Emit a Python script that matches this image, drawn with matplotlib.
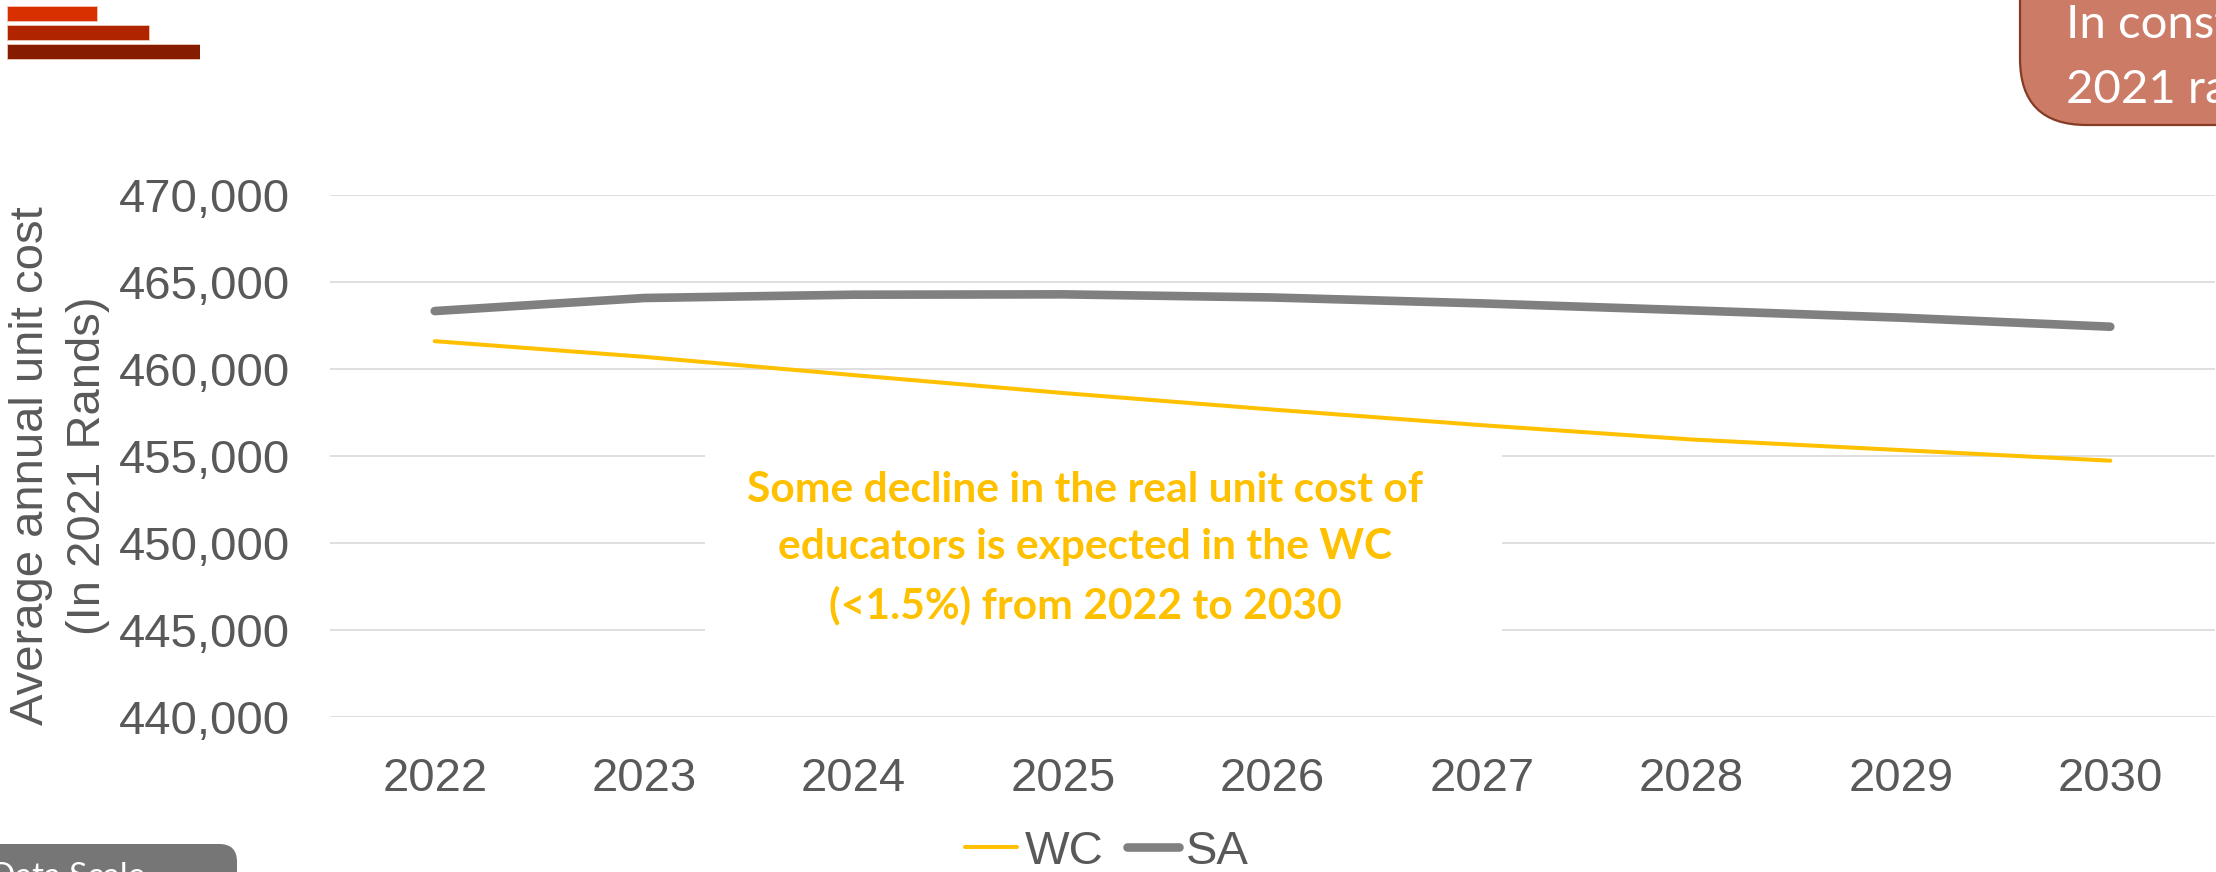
import numpy as np
import matplotlib.pyplot as plt
from matplotlib.lines import Line2D
from matplotlib.patches import FancyBboxPatch, Rectangle
from matplotlib.ticker import FuncFormatter

# projected average annual unit cost of an educator, constant 2021 rands
years = ['2022', '2023', '2024', '2025', '2026', '2027', '2028', '2029', '2030']
wc_cost = [461600, 460700, 459650, 458620, 457670, 456770, 455950, 455340, 454730]
sa_cost = [463330, 464080, 464270, 464290, 464110, 463770, 463370, 462950, 462430]
y_ticks = [440000, 445000, 450000, 455000, 460000, 465000, 470000]

# header strip widths (fraction of the longest one)
strip_widths = [0.466, 0.736, 1.0]
strip_colors = ['#D93000', '#B02500', '#861C00']

W, H = 2216, 872
TXT = '#595959'
plt.rcParams['font.family'] = ['Liberation Sans', 'DejaVu Sans']

fig = plt.figure(figsize=(W / 100, H / 100), dpi=100)

# ---- main chart ----
ax = fig.add_axes([330 / W, 1 - 717 / H, (2215 - 330) / W, (717 - 195) / H])
x = np.arange(len(years))
ax.plot(x, wc_cost, color='#FFC000', lw=2.9, solid_capstyle='round', zorder=3)
ax.plot(x, sa_cost, color='#808080', lw=6.2, solid_capstyle='round', zorder=3)

ax.set_xlim(-0.5, len(years) - 0.5)
ax.set_ylim(y_ticks[0], y_ticks[-1])
ax.set_xticks(x)
ax.set_xticklabels(years)
ax.set_yticks(y_ticks)
ax.yaxis.set_major_formatter(FuncFormatter(lambda v, _: f'{v:,.0f}'))
ax.tick_params(axis='both', length=0, labelsize=34, labelcolor=TXT)
ax.tick_params(axis='y', pad=29)
ax.tick_params(axis='x', pad=29)
ax.grid(axis='y', color='#D9D9D9', lw=1.2, zorder=0)
ax.set_axisbelow(True)
for s in ax.spines.values():
    s.set_visible(False)

# callout: white panel over the grid, text on top
ax_w = 2215 - 330
ax_h = 717 - 195
ax.add_patch(Rectangle(((705 - 330) / ax_w, (717 - 665) / ax_h),
                       (1502 - 705) / ax_w, (665 - 425) / ax_h,
                       transform=ax.transAxes, facecolor='white',
                       edgecolor='none', zorder=1.5))
ax.text((1085 - 330) / ax_w, (717 - 548) / ax_h,
        'Some decline in the real unit cost of\n'
        'educators is expected in the WC\n'
        '(<1.5%) from 2022 to 2030',
        transform=ax.transAxes, ha='center', va='center', multialignment='center',
        family='Lato', fontweight='bold', fontsize=30.6, color='#FFC000',
        linespacing=1.6, zorder=2)

# axis title, two lines
fig.text(31 / W, 1 - 466 / H, 'Average annual unit cost', rotation=90,
         ha='center', va='center', fontsize=34, color=TXT)
fig.text(88 / W, 1 - 466 / H, '(In 2021 Rands)', rotation=90,
         ha='center', va='center', fontsize=34, color=TXT)

handles = [Line2D([], [], color='#FFC000', lw=2.9, solid_capstyle='round'),
           Line2D([], [], color='#808080', lw=6.2, solid_capstyle='round')]
fig.legend(handles, ['WC', 'SA'], loc='center', bbox_to_anchor=(1107 / W, 1 - 852 / H),
           ncol=2, frameon=False, fontsize=34, labelcolor=TXT,
           handlelength=1.1, handletextpad=0.15, columnspacing=0.5,
           borderpad=0, borderaxespad=0)

# ---- header strips, top left ----
hx = fig.add_axes([7 / W, 1 - 61 / H, 193 / W, 57 / H])
hx.barh(range(len(strip_widths)), strip_widths, height=0.79, left=0,
        color=strip_colors, edgecolor='#F0C8B8', lw=0.6)
hx.set_xlim(0, 1)
hx.set_ylim(len(strip_widths) - 0.5, -0.5)
hx.axis('off')

# ---- note box, top right ----
note = FancyBboxPatch((2020 / W, 1 - 125 / H), 400 / W, 200 / H,
                      boxstyle='round,pad=0,rounding_size=0.03',
                      transform=fig.transFigure, facecolor='#CC7B66',
                      edgecolor='#843C24', lw=1.6, mutation_aspect=W / H)
fig.patches.append(note)
for line, base in [('In constant', 38), ('2021 rands', 103)]:
    fig.text(2066 / W, 1 - base / H, line, ha='left', va='baseline',
             family='Lato', fontsize=34, color='white')

# ---- source tab, bottom left ----
tab = FancyBboxPatch((-40 / W, 1 - 920 / H), 277 / W, 76 / H,
                     boxstyle='round,pad=0,rounding_size=0.008',
                     transform=fig.transFigure, facecolor='#767676',
                     edgecolor='none', mutation_aspect=W / H)
fig.patches.append(tab)
fig.text(-10 / W, 1 - 886 / H, 'Data Scale', ha='left', va='baseline',
         family='Lato', fontsize=24, color='white')

fig.savefig('out.png', dpi=100)
